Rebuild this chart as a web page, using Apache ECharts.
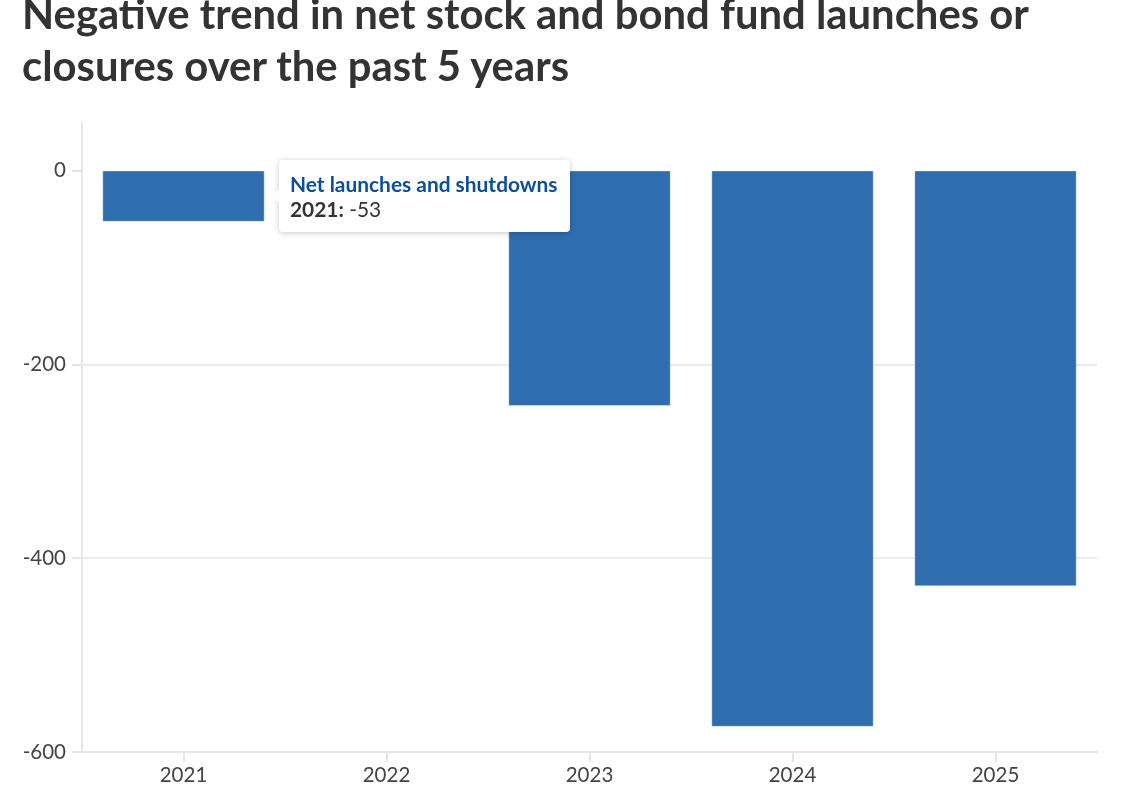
<!DOCTYPE html>
<html>
<head>
<meta charset="utf-8">
<script src="https://cdn.jsdelivr.net/npm/echarts@6/dist/echarts.min.js"></script>
<style>
  html, body { margin: 0; padding: 0; background: #fff; overflow: hidden; }
  #title { position: absolute; left: 22px; top: -13px; width: 1100px; font-family: Lato, sans-serif; font-weight: bold; font-size: 41.8px; line-height: 52px; color: #333; margin: 0; }
  #chart { position: absolute; left: 0; top: 0; width: 1142px; height: 795px; }
</style>
</head>
<body>
<div id="chart"></div>
<h1 id="title">Negative trend in net stock and bond fund launches or closures over the past 5 years</h1>
<script>
const categories = ['2021', '2022', '2023', '2024', '2025'];
const seriesName = 'Net launches and shutdowns';
const values = [-53, -35, -243, -574, -429];
const yTicks = [-600, -400, -200, 0];

const chart = echarts.init(document.getElementById('chart'));
chart.setOption({
  animation: false,
  grid: { left: 82, right: 45, top: 122, bottom: 43, containLabel: false },
  tooltip: {
    trigger: 'item',
    position: 'right',
    alwaysShowContent: true,
    backgroundColor: '#fff',
    borderColor: '#fff',
    borderWidth: 4,
    padding: [7, 8, 7, 7],
    extraCssText: 'box-shadow: 0 1px 6px rgba(0,0,0,0.22); border-radius: 4px;',
    textStyle: { fontFamily: 'Lato', fontSize: 20.9, color: '#333' },
    formatter: function (p) {
      return '<div style="line-height:25px;font-family:Lato;font-size:20.9px"><span style="color:#0b4f9c;font-weight:bold">' + p.seriesName +
        '</span><br><b style="color:#333">' + p.name + ':</b> <span style="color:#333">' + p.value + '</span></div>';
    }
  },
  xAxis: {
    type: 'category',
    data: categories,
    position: 'bottom',
    axisLine: { onZero: false, lineStyle: { color: '#e6e6e6', width: 2 } },
    axisTick: { show: true, alignWithLabel: true, length: 10, lineStyle: { color: '#e6e6e6', width: 2 } },
    axisLabel: { color: '#444', fontFamily: 'Lato', fontSize: 20.5, margin: 13 }
  },
  yAxis: {
    type: 'value',
    min: -600,
    max: 50,
    interval: 200,
    axisLine: { show: true, lineStyle: { color: '#e6e6e6', width: 2 } },
    axisTick: { show: true, length: 10, customValues: yTicks, lineStyle: { color: '#e6e6e6', width: 2 } },
    splitLine: { show: true, showMaxLine: false, lineStyle: { color: '#e6e6e6', width: 1.5 } },
    axisLabel: {
      color: '#444', fontFamily: 'Lato', fontSize: 20.5, margin: 16,
      customValues: yTicks,
      formatter: function (v) { return yTicks.indexOf(v) >= 0 ? String(v) : ''; }
    }
  },
  series: [{
    name: seriesName,
    type: 'bar',
    data: values,
    barCategoryGap: '20%',
    itemStyle: { color: '#2f6daf', borderColor: 'rgba(255,255,255,0.35)', borderWidth: 1 },
    emphasis: { disabled: true }
  }]
});
chart.dispatchAction({ type: 'showTip', seriesIndex: 0, dataIndex: 0 });
</script>
</body>
</html>
